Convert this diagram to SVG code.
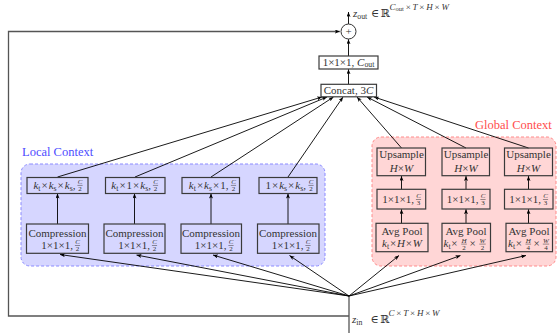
<svg xmlns="http://www.w3.org/2000/svg" width="557" height="333" viewBox="0 0 557 333" font-family="'Liberation Serif', 'DejaVu Serif', serif">
<style>
text{font-family:'Liberation Serif','DejaVu Serif',serif}
.t{font-size:11px;fill:#333}
.m{text-anchor:middle}
.e{text-anchor:end}
.i{font-style:italic}
.s{font-size:7.8px}
.fn{font-size:7px;fill:#333;text-anchor:middle}
.fb{stroke:#333;stroke-width:0.5}
.box{fill:none;stroke:#3a3a3a;stroke-width:1.2}
.wbox{fill:#fff;stroke:#3a3a3a;stroke-width:1.2}
.c{fill:none;stroke:#000;stroke-width:0.9}
.sk{fill:none;stroke:#555;stroke-width:1.3}
.lbl{font-size:12.5px}
.sup{font-size:9px}
</style>
<defs>
<marker id="ah" viewBox="0 0 10 8" refX="10" refY="4" markerWidth="5" markerHeight="4" markerUnits="userSpaceOnUse" orient="auto">
<path d="M0,0 L10,4 L0,8 L2.5,4 Z" fill="#000"/>
</marker>
</defs>

<g id="local-context">
<rect x="21" y="164" width="304" height="102" rx="9" fill="#d6d6ff" stroke="#8a8aff" stroke-width="1" stroke-dasharray="3,2"/>
<text class="lbl" x="22" y="155.5" fill="#4d4dff">Local Context</text>
</g>
<g id="global-context">
<rect x="372" y="137" width="184" height="129" rx="9" fill="#ffd6d6" stroke="#ff8a8a" stroke-width="1" stroke-dasharray="3,2"/>
<text class="lbl" x="475" y="128.5" fill="#ff4d4d">Global Context</text>
</g>

<g id="connectors">
<line class="sk" x1="349" y1="333" x2="349" y2="296"/>
<polyline class="sk" points="349,316 8.5,316 8.5,31.5 339.8,31.5" marker-end="url(#ah)"/>
<line class="c" x1="349" y1="296" x2="60" y2="254.5" marker-end="url(#ah)"/>
<line class="c" x1="349" y1="296" x2="136.5" y2="255" marker-end="url(#ah)"/>
<line class="c" x1="349" y1="296" x2="213" y2="255" marker-end="url(#ah)"/>
<line class="c" x1="349" y1="296" x2="289.5" y2="255.5" marker-end="url(#ah)"/>
<line class="c" x1="349" y1="296" x2="399" y2="255.5" marker-end="url(#ah)"/>
<line class="c" x1="349" y1="296" x2="460.5" y2="255.5" marker-end="url(#ah)"/>
<line class="c" x1="349" y1="296" x2="526" y2="255.5" marker-end="url(#ah)"/>
<line class="c" x1="57.5" y1="224" x2="57.5" y2="193.5" marker-end="url(#ah)"/>
<line class="c" x1="134.5" y1="224" x2="134.5" y2="193.5" marker-end="url(#ah)"/>
<line class="c" x1="211" y1="224" x2="211" y2="193.5" marker-end="url(#ah)"/>
<line class="c" x1="288" y1="224" x2="288" y2="193.5" marker-end="url(#ah)"/>
<line class="c" x1="401.5" y1="223.3" x2="401.5" y2="209.2" marker-end="url(#ah)"/>
<line class="c" x1="466" y1="223.3" x2="466" y2="209.2" marker-end="url(#ah)"/>
<line class="c" x1="528.5" y1="223.3" x2="528.5" y2="209.2" marker-end="url(#ah)"/>
<line class="c" x1="401.5" y1="189.3" x2="401.5" y2="176" marker-end="url(#ah)"/>
<line class="c" x1="466" y1="189.3" x2="466" y2="176" marker-end="url(#ah)"/>
<line class="c" x1="528.5" y1="189.3" x2="528.5" y2="176" marker-end="url(#ah)"/>
<line class="c" x1="57.5" y1="177" x2="322" y2="97" marker-end="url(#ah)"/>
<line class="c" x1="135" y1="177" x2="327" y2="97" marker-end="url(#ah)"/>
<line class="c" x1="211" y1="177" x2="333.5" y2="97" marker-end="url(#ah)"/>
<line class="c" x1="288" y1="177" x2="343" y2="97" marker-end="url(#ah)"/>
<line class="c" x1="401.5" y1="148" x2="357" y2="97" marker-end="url(#ah)"/>
<line class="c" x1="466" y1="148" x2="367" y2="97" marker-end="url(#ah)"/>
<line class="c" x1="528.5" y1="148" x2="374" y2="97" marker-end="url(#ah)"/>
<line class="c" x1="348.5" y1="84.3" x2="348.5" y2="69.2" marker-end="url(#ah)"/>
<line class="c" x1="348.5" y1="56" x2="348.5" y2="39.2" marker-end="url(#ah)"/>
<line class="c" x1="348.5" y1="24" x2="348.5" y2="12" marker-end="url(#ah)"/>
</g>

<g id="sum">
<circle cx="348.5" cy="31.5" r="7.5" fill="#fff" stroke="#333" stroke-width="1"/>
<text class="t m" x="348.5" y="35.3">+</text>
</g>
<g id="z-out">
<text class="t" x="353" y="16.5"><tspan class="i">z</tspan><tspan class="s" dy="2.2">out</tspan><tspan x="371" dy="-2.2">∈</tspan><tspan x="380.5">ℝ</tspan><tspan class="i sup" x="389.5" dy="-7">C</tspan><tspan font-size="6.5px" dy="1.6">out</tspan><tspan class="sup" dy="-1.6" dx="1.8">×</tspan><tspan class="i sup" dx="1.8">T</tspan><tspan class="sup" dx="1.8">×</tspan><tspan class="i sup" dx="1.8">H</tspan><tspan class="sup" dx="1.8">×</tspan><tspan class="i sup" dx="1.8">W</tspan></text>
</g>
<g id="z-in">
<text class="t" x="352" y="323"><tspan class="i">z</tspan><tspan class="s" dy="2.2">in</tspan><tspan x="370.5" dy="-2.2">∈</tspan><tspan x="380">ℝ</tspan><tspan class="i sup" x="388.5" dy="-7">C</tspan><tspan class="sup" dx="1.8">×</tspan><tspan class="i sup" dx="1.8">T</tspan><tspan class="sup" dx="1.8">×</tspan><tspan class="i sup" dx="1.8">H</tspan><tspan class="sup" dx="1.8">×</tspan><tspan class="i sup" dx="1.8">W</tspan></text>
</g>

<g id="conv-out">
<rect class="wbox" x="319" y="56" width="59" height="13"/>
<text class="t m" x="348.5" y="65.6">1×1×1, <tspan class="i">C</tspan><tspan class="s" dy="1.6">out</tspan></text>
</g>
<g id="concat">
<rect class="wbox" x="321" y="84.3" width="55.5" height="12.5"/>
<text class="t m" x="348.5" y="94.2">Concat, 3<tspan class="i">C</tspan></text>
</g>

<g id="local-kernel-1">
<rect class="box" x="27" y="177.5" width="61" height="16"/>
<text class="t e" x="75.5" y="189"><tspan class="i">k</tspan><tspan class="s" dy="2.2">t</tspan><tspan dy="-2.2" dx="1">×</tspan><tspan class="i" dx="1">k</tspan><tspan class="s" dy="2.2">s</tspan><tspan dy="-2.2" dx="1">×</tspan><tspan class="i" dx="1">k</tspan><tspan class="s" dy="2.2">s</tspan><tspan dy="-2.2">,</tspan></text>
<text class="fn i" x="80" y="184">C</text><line class="fb" x1="77.4" y1="185.4" x2="82.6" y2="185.4"/><text class="fn" x="80" y="191.3">2</text>
</g>
<g id="local-kernel-2">
<rect class="box" x="105.5" y="177.5" width="59.5" height="16"/>
<text class="t e" x="151" y="189"><tspan class="i">k</tspan><tspan class="s" dy="2.2">t</tspan><tspan dy="-2.2" dx="1">×</tspan><tspan dx="1">1</tspan><tspan dx="1">×</tspan><tspan class="i" dx="1">k</tspan><tspan class="s" dy="2.2">s</tspan><tspan dy="-2.2">,</tspan></text>
<text class="fn i" x="155.5" y="184">C</text><line class="fb" x1="152.9" y1="185.4" x2="158.1" y2="185.4"/><text class="fn" x="155.5" y="191.3">2</text>
</g>
<g id="local-kernel-3">
<rect class="box" x="182" y="177.5" width="57.5" height="16"/>
<text class="t e" x="228.5" y="189"><tspan class="i">k</tspan><tspan class="s" dy="2.2">t</tspan><tspan dy="-2.2" dx="1">×</tspan><tspan class="i" dx="1">k</tspan><tspan class="s" dy="2.2">s</tspan><tspan dy="-2.2" dx="1">×</tspan><tspan dx="1">1</tspan><tspan>,</tspan></text>
<text class="fn i" x="233.5" y="184">C</text><line class="fb" x1="230.9" y1="185.4" x2="236.1" y2="185.4"/><text class="fn" x="233.5" y="191.3">2</text>
</g>
<g id="local-kernel-4">
<rect class="box" x="259" y="177.5" width="58" height="16"/>
<text class="t e" x="306" y="189"><tspan>1</tspan><tspan dx="1">×</tspan><tspan class="i" dx="1">k</tspan><tspan class="s" dy="2.2">s</tspan><tspan dy="-2.2" dx="1">×</tspan><tspan class="i" dx="1">k</tspan><tspan class="s" dy="2.2">s</tspan><tspan dy="-2.2">,</tspan></text>
<text class="fn i" x="311" y="184">C</text><line class="fb" x1="308.4" y1="185.4" x2="313.6" y2="185.4"/><text class="fn" x="311" y="191.3">2</text>
</g>

<g id="compression-1">
<rect class="box" x="26.5" y="224" width="62" height="29.3"/>
<text class="t m" x="57.5" y="236.5">Compression</text>
<text class="t e" x="73" y="248.6">1×1×1,</text>
<text class="fn i" x="77.5" y="244.2">C</text><line class="fb" x1="74.9" y1="245.5" x2="80.1" y2="245.5"/><text class="fn" x="77.5" y="251.3">2</text>
</g>
<g id="compression-2">
<rect class="box" x="104" y="224" width="61" height="29.3"/>
<text class="t m" x="134.5" y="236.5">Compression</text>
<text class="t e" x="150" y="248.6">1×1×1,</text>
<text class="fn i" x="154.5" y="244.2">C</text><line class="fb" x1="151.9" y1="245.5" x2="157.1" y2="245.5"/><text class="fn" x="154.5" y="251.3">2</text>
</g>
<g id="compression-3">
<rect class="box" x="181" y="224" width="60.5" height="29.3"/>
<text class="t m" x="211" y="236.5">Compression</text>
<text class="t e" x="226.5" y="248.6">1×1×1,</text>
<text class="fn i" x="231" y="244.2">C</text><line class="fb" x1="228.4" y1="245.5" x2="233.6" y2="245.5"/><text class="fn" x="231" y="251.3">2</text>
</g>
<g id="compression-4">
<rect class="box" x="257.5" y="224" width="61.5" height="29.3"/>
<text class="t m" x="288" y="236.5">Compression</text>
<text class="t e" x="303.5" y="248.6">1×1×1,</text>
<text class="fn i" x="308" y="244.2">C</text><line class="fb" x1="305.4" y1="245.5" x2="310.6" y2="245.5"/><text class="fn" x="308" y="251.3">2</text>
</g>

<g id="upsample-1">
<rect class="box" x="377" y="148" width="48.5" height="27.7"/>
<text class="t m" x="401.5" y="158.3">Upsample</text>
<text class="t m i" x="401.5" y="171.5">H<tspan font-style="normal">×</tspan>W</text>
</g>
<g id="upsample-2">
<rect class="box" x="442" y="148" width="47.5" height="27.7"/>
<text class="t m" x="466" y="158.3">Upsample</text>
<text class="t m i" x="466" y="171.5">H<tspan font-style="normal">×</tspan>W</text>
</g>
<g id="upsample-3">
<rect class="box" x="504.5" y="148" width="48" height="27.7"/>
<text class="t m" x="528.5" y="158.3">Upsample</text>
<text class="t m i" x="528.5" y="171.5">H<tspan font-style="normal">×</tspan>W</text>
</g>

<g id="reduce-1">
<rect class="box" x="377" y="189.3" width="48.7" height="19.7"/>
<text class="t e" x="414" y="202.6">1×1×1,</text>
<text class="fn i" x="418.5" y="198.2">C</text><line class="fb" x1="415.9" y1="199.5" x2="421.1" y2="199.5"/><text class="fn" x="418.5" y="205.3">3</text>
</g>
<g id="reduce-2">
<rect class="box" x="442" y="189.3" width="48" height="19.7"/>
<text class="t e" x="478.5" y="202.6">1×1×1,</text>
<text class="fn i" x="483" y="198.2">C</text><line class="fb" x1="480.4" y1="199.5" x2="485.6" y2="199.5"/><text class="fn" x="483" y="205.3">3</text>
</g>
<g id="reduce-3">
<rect class="box" x="504.5" y="189.3" width="48.5" height="19.7"/>
<text class="t e" x="541" y="202.6">1×1×1,</text>
<text class="fn i" x="545.5" y="198.2">C</text><line class="fb" x1="542.9" y1="199.5" x2="548.1" y2="199.5"/><text class="fn" x="545.5" y="205.3">3</text>
</g>

<g id="avgpool-1">
<rect class="box" x="376" y="223.3" width="52" height="28.4"/>
<text class="t m" x="402" y="234.7">Avg Pool</text>
<text class="t m" x="402" y="247.2"><tspan class="i">k</tspan><tspan class="s" dy="2.2">t</tspan><tspan dy="-2.2" dx="0.8">×</tspan><tspan class="i" dx="0.8">H</tspan><tspan dx="0.8">×</tspan><tspan class="i" dx="0.8">W</tspan></text>
</g>
<g id="avgpool-2">
<rect class="box" x="442" y="223.3" width="48.5" height="28.4"/>
<text class="t m" x="466" y="234.7">Avg Pool</text>
<text class="t" x="443.5" y="247.2"><tspan class="i">k</tspan><tspan class="s" dy="2.2">t</tspan><tspan dy="-2.2" dx="0.8">×</tspan></text>
<text class="fn i" x="464" y="242.8">H</text><line class="fb" x1="461.2" y1="244.1" x2="466.8" y2="244.1"/><text class="fn" x="464" y="249.9">2</text>
<text class="t m" x="472.5" y="247.2">×</text>
<text class="fn i" x="482.5" y="242.8">W</text><line class="fb" x1="479.3" y1="244.1" x2="485.7" y2="244.1"/><text class="fn" x="482.5" y="249.9">2</text>
</g>
<g id="avgpool-3">
<rect class="box" x="506" y="223.3" width="46.5" height="28.4"/>
<text class="t m" x="529" y="234.7">Avg Pool</text>
<text class="t" x="508" y="247.2"><tspan class="i">k</tspan><tspan class="s" dy="2.2">t</tspan><tspan dy="-2.2" dx="0.8">×</tspan></text>
<text class="fn i" x="528.3" y="242.8">H</text><line class="fb" x1="525.5" y1="244.1" x2="531.1" y2="244.1"/><text class="fn" x="528.3" y="249.9">4</text>
<text class="t m" x="536.5" y="247.2">×</text>
<text class="fn i" x="546" y="242.8">W</text><line class="fb" x1="542.8" y1="244.1" x2="549.2" y2="244.1"/><text class="fn" x="546" y="249.9">4</text>
</g>
</svg>
